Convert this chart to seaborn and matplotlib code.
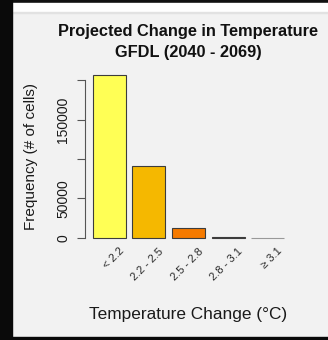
import matplotlib
matplotlib.use("Agg")
import matplotlib.pyplot as plt
from matplotlib.patches import Rectangle
from matplotlib.transforms import ScaledTranslation, blended_transform_factory
import seaborn as sns
import pandas as pd

# Histogram of projected warming across grid cells
categories = ["< 2.2", "2.2 - 2.5", "2.5 - 2.8", "2.8 - 3.1", "\u2265 3.1"]
frequencies = [207000, 91000, 12500, 700, 0]
bar_colors = ["#FFFF55", "#F5B800", "#F57A00", "#A01000", "#888888"]
ytick_values = [0, 50000, 100000, 150000, 200000]
ytick_labels = ["0", "50000", "", "150000", ""]
title_lines = ["Projected Change in Temperature", "GFDL (2040 - 2069)"]

sns.set_theme(style="white")
plt.rcParams["font.family"] = ["Liberation Sans", "DejaVu Sans"]

W, H = 328, 340
fig = plt.figure(figsize=(W / 100, H / 100), dpi=100, facecolor="#F2F2F2")

# window frame
def px_rect(x0, y0, x1, y1, color):
    fig.patches.append(Rectangle((x0 / W, 1 - y1 / H), (x1 - x0) / W, (y1 - y0) / H,
                                 transform=fig.transFigure, color=color, zorder=0))

px_rect(0, 0, W, 3, "#111111")
px_rect(12, 3, W, 12, "#FFFFFF")
px_rect(12, 12, W, 13, "#E2E2E2")
px_rect(0, 0, 12, H, "#0A0A0A")
px_rect(0, 337, W, H, "#0A0A0A")

left, right, top, bottom = 85, 292, 68, 244.5
ax = fig.add_axes([left / W, 1 - bottom / H, (right - left) / W, (bottom - top) / H])
ax.set_facecolor("none")

df = pd.DataFrame({"bin": categories, "count": frequencies})
sns.barplot(data=df, x="bin", y="count", hue="bin", palette=bar_colors, legend=False,
            width=0.833, edgecolor="#3C3C3C", linewidth=0.8, saturation=1, ax=ax)
for patch, h in zip(ax.patches, frequencies):
    if h == 0:
        patch.set_edgecolor("#999999")

ymax = max(frequencies)
ax.set_xlim(-0.61, 4.61)
ax.set_ylim(-0.04 * ymax, 1.04 * ymax)

for s in ["top", "right", "bottom"]:
    ax.spines[s].set_visible(False)
ax.spines["left"].set_color("#555555")
ax.spines["left"].set_linewidth(0.8)
ax.spines["left"].set_bounds(ytick_values[0], ytick_values[-1])

ax.set_yticks(ytick_values)
ax.set_yticklabels(ytick_labels, rotation=90, va="center", fontsize=10, color="#1A1A1A")
ax.tick_params(axis="y", left=True, length=5.5, width=0.8, color="#555555", pad=5)

ax.set_xticks([])
ax.set_xlabel("")
ax.set_ylabel("Frequency (# of cells)", fontsize=11, color="#1A1A1A", labelpad=13)

# slanted category labels under the bars
trans = blended_transform_factory(ax.transData, ax.transAxes)
for i, lab in enumerate(categories):
    off = ScaledTranslation(13 / 100, -5 / 100, fig.dpi_scale_trans)
    ax.text(i, 0, lab, transform=trans + off, rotation=45, rotation_mode="anchor",
            ha="right", va="center", fontsize=8, color="#2A2A2A")

cx = (left + right) / 2 / W
fig.text(cx, 1 - 315 / H, "Temperature Change (\u00b0C)", ha="center", va="center",
         fontsize=12.4, color="#1A1A1A")
fig.text(cx, 1 - 31.5 / H, title_lines[0], ha="center", va="center",
         fontsize=11.8, fontweight="bold", color="#111111")
fig.text(cx, 1 - 53 / H, title_lines[1], ha="center", va="center",
         fontsize=11.8, fontweight="bold", color="#111111")

fig.savefig("out.png", dpi=100, facecolor=fig.get_facecolor())
